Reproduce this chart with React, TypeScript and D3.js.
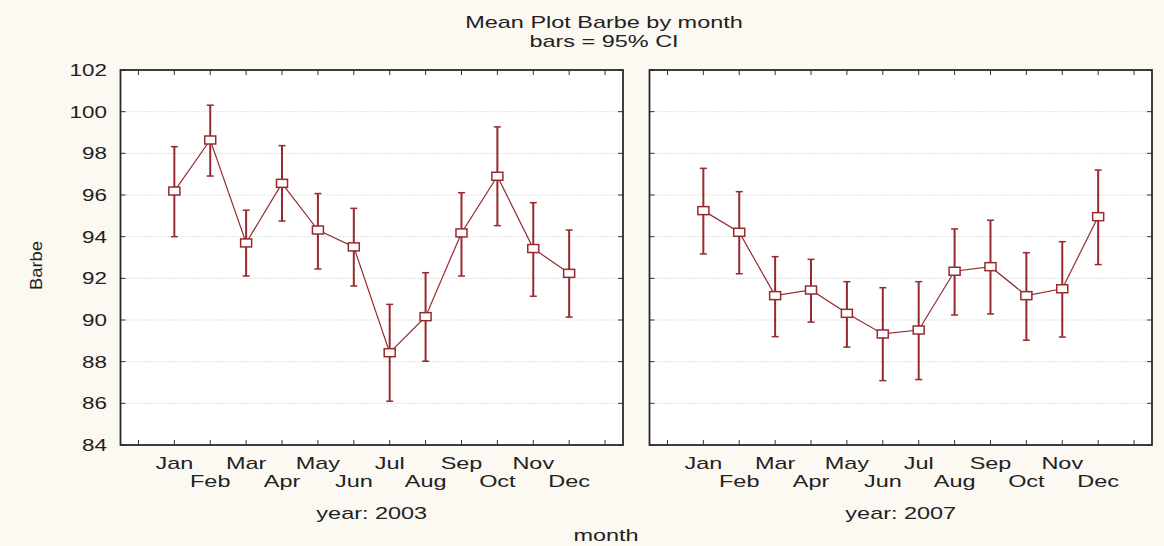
import React from 'react';
import * as d3 from 'd3';

const months = ['Jan', 'Feb', 'Mar', 'Apr', 'May', 'Jun', 'Jul', 'Aug', 'Sep', 'Oct', 'Nov', 'Dec'];
const years = ['2003', '2007'];

const mean2003 = [96.19, 98.64, 93.7, 96.56, 94.32, 93.51, 88.43, 90.16, 94.18, 96.9, 93.43, 92.24];
const upper2003 = [98.32, 100.31, 95.27, 98.37, 96.07, 95.36, 90.75, 92.27, 96.11, 99.27, 95.63, 94.32];
const lower2003 = [94.0, 96.91, 92.11, 94.75, 92.45, 91.63, 86.1, 88.02, 92.11, 94.53, 91.14, 90.14];

const mean2007 = [95.25, 94.21, 91.17, 91.44, 90.32, 89.33, 89.52, 92.34, 92.56, 91.17, 91.5, 94.96];
const upper2007 = [97.28, 96.16, 93.04, 92.91, 91.84, 91.55, 91.84, 94.37, 94.79, 93.23, 93.76, 97.2];
const lower2007 = [93.17, 92.22, 89.2, 89.9, 88.7, 87.09, 87.14, 90.24, 90.29, 89.03, 89.18, 92.66];

const yTicks = [84, 86, 88, 90, 92, 94, 96, 98, 100, 102];

const W = 1164;
const H = 546;
const top = 70;
const bottom = 445;
const panels = [
  { x0: 120.5, x1: 623, mean: mean2003, upper: upper2003, lower: lower2003 },
  { x0: 649.5, x1: 1152, mean: mean2007, upper: upper2007, lower: lower2007 },
];
const red = '#962a2e';
const font = 'Liberation Sans, Arial, sans-serif';

const y = d3.scaleLinear().domain([84, 102]).range([bottom, top]);

// the original's text is drawn wide, so stretch it horizontally
function Txt({ x, y, anchor = 'middle', sx = 1.38, size = 17, children }: any) {
  return (
    <text transform={`translate(${x},${y}) scale(${sx},1)`} textAnchor={anchor} fontSize={size} fill="#222" fontFamily={font}>
      {children}
    </text>
  );
}

function Panel({ p, year }: { p: typeof panels[0]; year: string }) {
  // positions 0..13: empty slot, Jan..Dec, empty slot
  const x = d3.scaleLinear().domain([-0.5, 13.5]).range([p.x0, p.x1]);
  const slots = d3.range(0, 14);
  const line = d3.line<number>().x((_, i) => x(i + 1)).y(d => y(d));
  return (
    <g>
      <rect x={p.x0} y={top} width={p.x1 - p.x0} height={bottom - top} fill="#fff" />
      {yTicks.slice(1, -1).map(t => (
        <line key={t} x1={p.x0} x2={p.x1} y1={y(t)} y2={y(t)} stroke="#c4c4c4" strokeDasharray="1,2" />
      ))}
      {yTicks.map(t => (
        <g key={'t' + t}>
          <line x1={p.x0} x2={p.x0 + 5} y1={y(t)} y2={y(t)} stroke="#333" />
          <line x1={p.x1 - 5} x2={p.x1} y1={y(t)} y2={y(t)} stroke="#333" />
        </g>
      ))}
      {slots.map(s => (
        <g key={'s' + s}>
          <line x1={x(s)} x2={x(s)} y1={top} y2={top + 5} stroke="#333" />
          <line x1={x(s)} x2={x(s)} y1={bottom - 5} y2={bottom} stroke="#333" />
        </g>
      ))}
      <rect x={p.x0} y={top} width={p.x1 - p.x0} height={bottom - top} fill="none" stroke="#2a2a2a" strokeWidth={1.8} />
      {p.mean.map((m, i) => (
        <g key={'e' + i} stroke={red} strokeWidth={2}>
          <line x1={x(i + 1)} x2={x(i + 1)} y1={y(p.upper[i])} y2={y(p.lower[i])} />
          <line x1={x(i + 1) - 3.5} x2={x(i + 1) + 3.5} y1={y(p.upper[i])} y2={y(p.upper[i])} strokeWidth={1.5} />
          <line x1={x(i + 1) - 3.5} x2={x(i + 1) + 3.5} y1={y(p.lower[i])} y2={y(p.lower[i])} strokeWidth={1.5} />
        </g>
      ))}
      <path d={line(p.mean) || ''} fill="none" stroke={red} strokeWidth={1.2} />
      {p.mean.map((m, i) => (
        <rect key={'m' + i} x={x(i + 1) - 5.5} y={y(m) - 4} width={11} height={8} fill="#fff" stroke={red} strokeWidth={1.5} />
      ))}
      {months.map((mo, i) => (
        <Txt key={mo} x={x(i + 1)} y={i % 2 === 0 ? 469 : 487}>{mo}</Txt>
      ))}
      <Txt x={(p.x0 + p.x1) / 2} y={519}>{'year: ' + year}</Txt>
    </g>
  );
}

export default function App() {
  return (
    <svg width={W} height={H} style={{ position: 'absolute', left: 0, top: 0, background: '#fcf9f3' }}>
      <rect width={W} height={H} fill="#fcf9f3" />
      <Txt x={604} y={28}>Mean Plot Barbe by month</Txt>
      <Txt x={604} y={47}>bars = 95% CI</Txt>
      {yTicks.map(t => (
        <Txt key={t} x={107} y={y(t) + 6} anchor="end" sx={1.32}>{t}</Txt>
      ))}
      <text transform={`translate(42,${(top + bottom) / 2 + 8}) rotate(-90) scale(1.08,1)`} textAnchor="middle" fontSize={17} fill="#222" fontFamily={font}>Barbe</text>
      {panels.map((p, i) => <Panel key={i} p={p} year={years[i]} />)}
      <Txt x={606} y={541}>month</Txt>
    </svg>
  );
}
